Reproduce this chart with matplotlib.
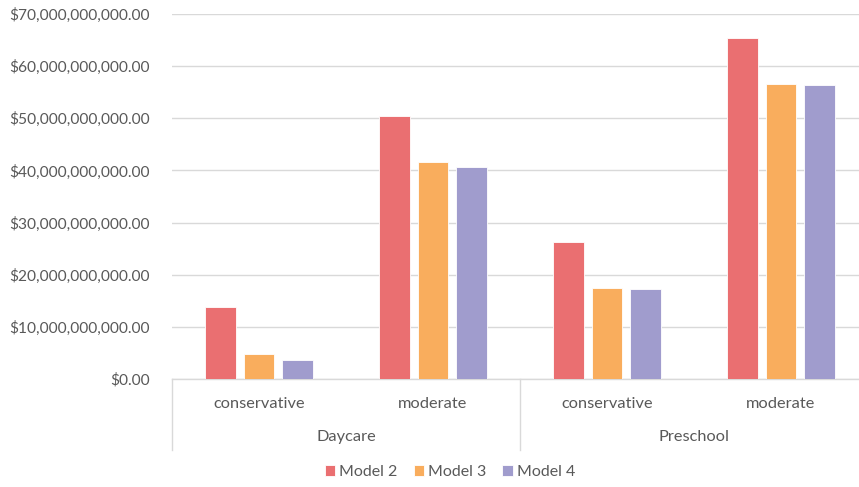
import matplotlib.pyplot as plt
import matplotlib.transforms as mtransforms
from matplotlib.ticker import FuncFormatter, MultipleLocator
import numpy as np

plt.rcParams['font.family'] = ['Lato', 'DejaVu Sans']

groups = ["Daycare", "Preschool"]
scenarios = ["conservative", "moderate"]
series = ["Model 2", "Model 3", "Model 4"]
model2 = [13.8e9, 50.4e9, 26.3e9, 65.4e9]
model3 = [4.85e9, 41.7e9, 17.5e9, 56.6e9]
model4 = [3.7e9, 40.6e9, 17.3e9, 56.3e9]
colors = ["#EA6F71", "#F9AD5D", "#A09CCD"]

W, H = 859, 487
fig = plt.figure(figsize=(W / 100, H / 100), dpi=100)
ax = fig.add_axes([172 / W, 1 - 379 / H, (868 - 172) / W, (379 - 14) / H])

n_cat = len(groups) * len(scenarios)
x = np.arange(n_cat) + 0.5
bw = 0.178
step = 0.221
for i, (vals, name) in enumerate(zip([model2, model3, model4], series)):
    ax.bar(x + (i - 1) * step, vals, width=bw, color=colors[i], label=name,
           edgecolor="white", linewidth=0.6, zorder=3)

ax.set_xlim(0, n_cat)
ax.set_ylim(0, 70e9)
ax.yaxis.set_major_locator(MultipleLocator(10e9))
ax.yaxis.set_major_formatter(FuncFormatter(lambda v, p: "${:,.2f}".format(v)))
ax.grid(axis="y", color="#d9d9d9", linewidth=1, zorder=0)
for s in ["top", "right", "left"]:
    ax.spines[s].set_visible(False)
ax.spines["bottom"].set_color("#d9d9d9")
ax.spines["bottom"].set_linewidth(1)
ax.tick_params(axis="y", length=0, pad=16, labelsize=11.2, labelcolor="#595959")
ax.tick_params(axis="x", length=0)
ax.set_xticks(x)
ax.set_xticklabels([])

# Two-level category axis
trans = mtransforms.blended_transform_factory(ax.transData, ax.transAxes)
px = 1 / (379 - 14)
for i in range(n_cat):
    ax.text(x[i], -25 * px, scenarios[i % len(scenarios)], transform=trans,
            ha="center", va="center", fontsize=11.8, color="#595959")
for g, name in enumerate(groups):
    ax.text(g * 2 + 1, -58 * px, name, transform=trans,
            ha="center", va="center", fontsize=11.8, color="#595959")
for b in [0, 2, 4]:
    ax.plot([b, b], [0, -71 * px], transform=trans, color="#d9d9d9",
            linewidth=1, clip_on=False)

fig.legend(loc="center", bbox_to_anchor=(450 / W, 1 - 472 / H), ncol=3,
           frameon=False, fontsize=11.5, labelcolor="#595959",
           handlelength=0.65, handleheight=0.65, handletextpad=0.25,
           columnspacing=1.0)

fig.savefig("out.png", dpi=100)
